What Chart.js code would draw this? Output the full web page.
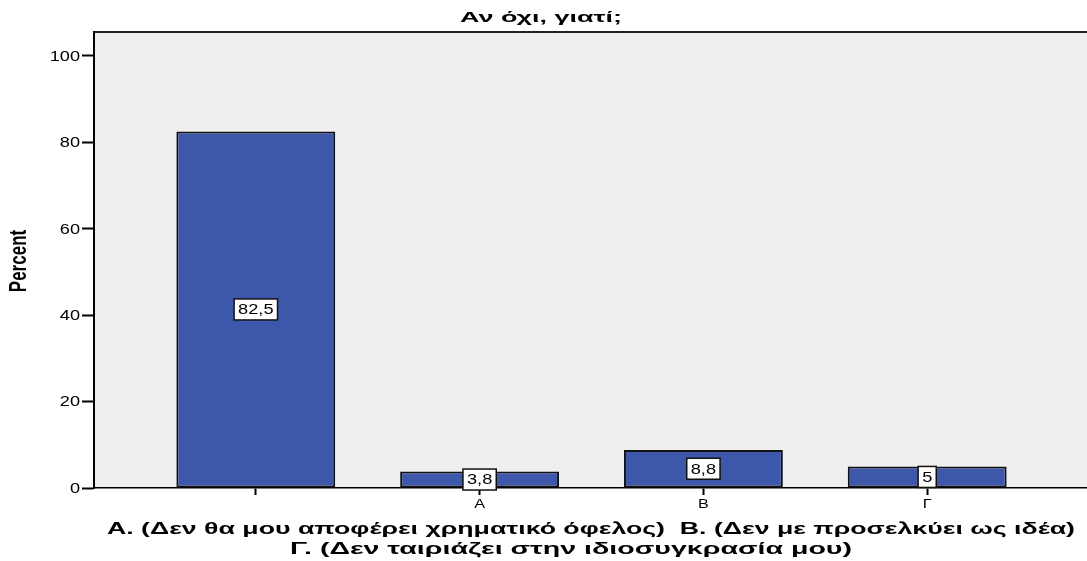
<!DOCTYPE html>
<html>
<head>
<meta charset="utf-8">
<script src="https://cdn.jsdelivr.net/npm/chart.js@4"></script>
<style>
    html, body { margin: 0; padding: 0; background: #fff; overflow: hidden; }
    #wrap { position: relative; width: 1089px; height: 561px; }
</style>
</head>
<body>
<div id="wrap"><canvas id="chart"></canvas></div>
<script>
// ===== DATA =====
const categories = ['', 'Α', 'Β', 'Γ'];
const percents = [82.5, 3.8, 8.8, 5];
const valueLabels = ['82,5', '3,8', '8,8', '5'];
const yTicks = [0, 20, 40, 60, 80, 100];
const chartTitle = 'Αν όχι, γιατί;';
const yTitle = 'Percent';
const xTitleLines = [
    'Α. (Δεν θα μου αποφέρει χρηματικό όφελος)  Β. (Δεν με προσελκύει ως ιδέα)',
    'Γ. (Δεν ταιριάζει στην ιδιοσυγκρασία μου)'
];

const FONT = '"Liberation Sans", Arial, sans-serif';
const STRETCH = 1.3; // the SPSS export is stretched horizontally

// draw text squeezed/stretched along x only
function drawText(ctx, text, x, y, align, sx) {
    ctx.save();
    ctx.translate(x, y);
    ctx.scale(sx, 1);
    ctx.textAlign = align;
    ctx.fillText(text, 0, 0);
    ctx.restore();
}

// ===== PLOT BACKGROUND =====
const plotBackground = {
    id: 'plotBackground',
    beforeDraw(chart) {
        const { ctx, chartArea: a } = chart;
        ctx.save();
        ctx.fillStyle = '#efefef';
        ctx.fillRect(a.left, a.top, a.right - a.left, a.bottom - a.top);
        ctx.strokeStyle = '#222';
        ctx.lineWidth = 2;
        ctx.beginPath();
        ctx.moveTo(a.left, a.top);
        ctx.lineTo(a.right, a.top);
        ctx.stroke();
        ctx.restore();
    }
};

// ===== LABELS, VALUE BOXES, TITLES =====
const annotations = {
    id: 'annotations',
    afterDraw(chart) {
        const { ctx } = chart;
        const xScale = chart.scales.x;
        const yScale = chart.scales.y;
        const meta = chart.getDatasetMeta(0);

        ctx.save();
        ctx.fillStyle = '#000';
        ctx.textBaseline = 'middle';

        // y tick labels
        ctx.font = '14px ' + FONT;
        yTicks.forEach(v => {
            drawText(ctx, String(v), 80, yScale.getPixelForValue(v) + 1, 'right', STRETCH);
        });

        // x tick labels
        ctx.font = '12px ' + FONT;
        categories.forEach((c, i) => {
            drawText(ctx, c, xScale.getPixelForValue(i), 505, 'center', 1.35);
        });

        // value labels in white boxes at the middle of each bar
        ctx.font = '14px ' + FONT;
        meta.data.forEach((bar, i) => {
            const midY = (bar.y + bar.base) / 2;
            const w = ctx.measureText(valueLabels[i]).width * STRETCH + 8;
            const h = 21;
            ctx.fillStyle = '#fff';
            ctx.fillRect(bar.x - w / 2, midY - h / 2, w, h);
            ctx.strokeStyle = '#111';
            ctx.lineWidth = 1.5;
            ctx.strokeRect(bar.x - w / 2, midY - h / 2, w, h);
            ctx.fillStyle = '#000';
            drawText(ctx, valueLabels[i], bar.x, midY + 1, 'center', STRETCH);
        });

        // chart title, fitted to its width in the original
        ctx.textBaseline = 'alphabetic';
        ctx.font = 'bold 14px ' + FONT;
        let sx = 162 / ctx.measureText(chartTitle).width;
        drawText(ctx, chartTitle, 541, 22, 'center', sx);

        // y axis title
        ctx.save();
        ctx.translate(26, 261);
        ctx.scale(1.45, 1);
        ctx.rotate(-Math.PI / 2);
        ctx.font = 'bold 17px ' + FONT;
        ctx.textAlign = 'center';
        ctx.fillText(yTitle, 0, 0);
        ctx.restore();

        // x axis title, two lines
        ctx.font = 'bold 16px ' + FONT;
        const spans = [[107, 968, 534], [290, 562, 554]];
        xTitleLines.forEach((line, i) => {
            const [x0, target, baseY] = spans[i];
            sx = target / ctx.measureText(line).width;
            drawText(ctx, line, x0, baseY, 'left', sx);
        });
        ctx.restore();
    }
};

// ===== CHART =====
new Chart(document.getElementById('chart'), {
    type: 'bar',
    data: {
        datasets: [{
            data: percents.map((v, i) => ({ x: i, y: v })),
            backgroundColor: '#3d58ab',
            borderColor: '#111',
            borderWidth: 2,
            borderSkipped: false,
            barPercentage: 0.71,
            categoryPercentage: 1
        }]
    },
    options: {
        responsive: true,
        maintainAspectRatio: false,
        animation: false,
        layout: { padding: { top: 32, left: 0, right: 0, bottom: 0 } },
        plugins: {
            legend: { display: false },
            tooltip: { enabled: false },
            title: { display: false }
        },
        scales: {
            x: {
                type: 'linear',
                offset: false,
                min: -0.723,
                max: 3.723,
                afterBuildTicks: s => { s.ticks = categories.map((c, i) => ({ value: i })); },
                afterFit: s => { s.height = 73; },
                ticks: { display: false },
                grid: {
                    offset: false,
                    drawOnChartArea: false,
                    tickLength: 7,
                    tickColor: '#000',
                    tickWidth: 2
                },
                border: { color: '#000', width: 1.5 }
            },
            y: {
                min: 0,
                max: 105.5,
                afterBuildTicks: s => { s.ticks = yTicks.map(v => ({ value: v })); },
                afterFit: s => { s.width = 94; },
                ticks: { display: false },
                grid: {
                    drawOnChartArea: false,
                    tickLength: 12,
                    tickColor: '#000',
                    tickWidth: 2
                },
                border: { color: '#000', width: 2 }
            }
        }
    },
    plugins: [plotBackground, annotations]
});
</script>
</body>
</html>
